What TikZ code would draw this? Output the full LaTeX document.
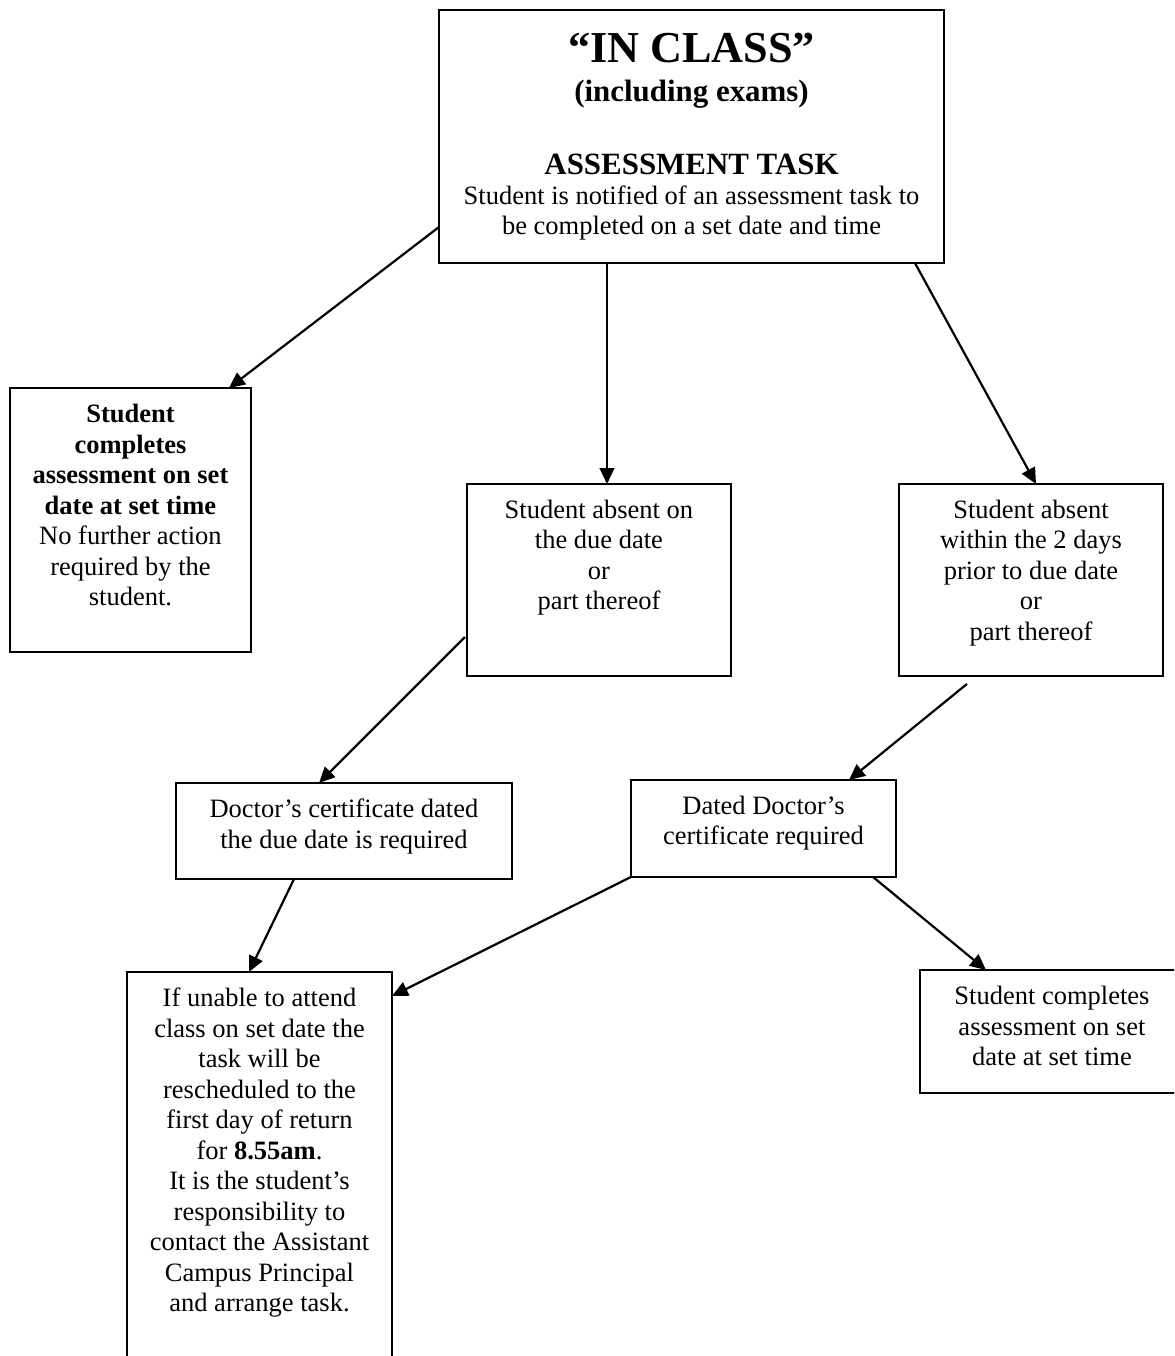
\documentclass[tikz,border=0pt]{standalone}
\usepackage{fontspec}
\setmainfont{Liberation Serif}
\usetikzlibrary{calc,arrows.meta}
% one centred line whose baseline lies #1 below the previous one
\newcommand\Ln[2]{\kern#1\relax\hbox to\hsize{\hss\raisebox{0pt}[0pt][0pt]{#2}\hss}}
% box contents: width #1, height #2, lines #3
\newcommand\Bx[3]{\vbox to #2{\hsize=#1\relax\offinterlineskip\fontsize{12}{13.8}\selectfont #3\vfil}}
\tikzset{
  box/.style={draw, line width=0.95pt, inner sep=0pt, outer sep=0pt, anchor=north west},
  arr/.style={line width=1pt, -{Triangle[length=7.2pt,width=6.6pt]}}
}
\begin{document}
\begin{tikzpicture}[x=0.4528pt, y=-0.4528pt]
\path[use as bounding box] (0,0) rectangle (1174,1356);
\clip (0,0) rectangle (1174,1356);

\node[box] (top) at (439,10) {\Bx{228.7pt}{114.6pt}{%
  \Ln{23.6pt}{\fontsize{20}{23}\bfseries “IN CLASS”}%
  \Ln{17.7pt}{\fontsize{14}{16}\bfseries (including exams)}%
  \Ln{33pt}{\fontsize{14}{16}\bfseries ASSESSMENT TASK}%
  \Ln{13.8pt}{Student is notified of an assessment task to}%
  \Ln{13.6pt}{be completed on a set date and time}}};

\node[box] (left) at (10,388) {\Bx{109.1pt}{119.5pt}{%
  \Ln{15.8pt}{\bfseries Student}%
  \Ln{13.8pt}{\bfseries completes}%
  \Ln{13.8pt}{\bfseries assessment on set}%
  \Ln{13.8pt}{\bfseries date at set time}%
  \Ln{13.8pt}{No further action}%
  \Ln{13.8pt}{required by the}%
  \Ln{13.8pt}{student.}}};

\node[box] (mid) at (467,484) {\Bx{119.5pt}{86.9pt}{%
  \Ln{15.6pt}{Student absent on}%
  \Ln{13.8pt}{the due date}%
  \Ln{13.8pt}{or}%
  \Ln{13.8pt}{part thereof}}};

\node[box] (right) at (899,484) {\Bx{119.5pt}{86.9pt}{%
  \Ln{15.6pt}{Student absent}%
  \Ln{13.8pt}{within the 2 days}%
  \Ln{13.8pt}{prior to due date}%
  \Ln{13.8pt}{or}%
  \Ln{13.8pt}{part thereof}}};

\node[box] (doc1) at (176,783) {\Bx{152.1pt}{43.5pt}{%
  \Ln{15.8pt}{Doctor’s certificate dated}%
  \Ln{13.8pt}{the due date is required}}};

\node[box] (doc2) at (631,780) {\Bx{120pt}{43.9pt}{%
  \Ln{15.4pt}{Dated Doctor’s}%
  \Ln{13.8pt}{certificate required}}};

\node[box] (botleft) at (127,972) {\Bx{120pt}{200pt}{%
  \Ln{15.8pt}{If unable to attend}%
  \Ln{13.8pt}{class on set date the}%
  \Ln{13.8pt}{task will be}%
  \Ln{13.8pt}{rescheduled to the}%
  \Ln{13.8pt}{first day of return}%
  \Ln{13.8pt}{for \textbf{8.55am}.}%
  \Ln{13.8pt}{It is the student’s}%
  \Ln{13.8pt}{responsibility to}%
  \Ln{13.8pt}{contact the Assistant}%
  \Ln{13.8pt}{Campus Principal}%
  \Ln{13.8pt}{and arrange task.}}};

\node[box] (botright) at (920,970) {\Bx{119.5pt}{55.7pt}{%
  \Ln{15.8pt}{Student completes}%
  \Ln{13.8pt}{assessment on set}%
  \Ln{13.8pt}{date at set time}}};

\draw[arr] ($(top.north west)+(0,217)$) -- ($(left.north west)+(219,0)$);
\draw[arr] ($(top.south west)+(168,0)$) -- ($(mid.north west)+(140,0)$);
\draw[arr] ($(top.south west)+(476,0)$) -- ($(right.north west)+(137,0)$);
\draw[arr] ($(mid.north west)+(-2,153)$) -- ($(doc1.north west)+(143,0)$);
\draw[arr] ($(right.south west)+(68,8)$) -- ($(doc2.north west)+(218,0)$);
\draw[arr] ($(doc1.south west)+(118,0)$) -- ($(botleft.north west)+(122,0)$);
\draw[arr] (doc2.south west) -- ($(botleft.north east)+(0,24)$);
\draw[arr] ($(doc2.south west)+(242,0)$) -- ($(botright.north west)+(66,0)$);
\end{tikzpicture}
\end{document}
